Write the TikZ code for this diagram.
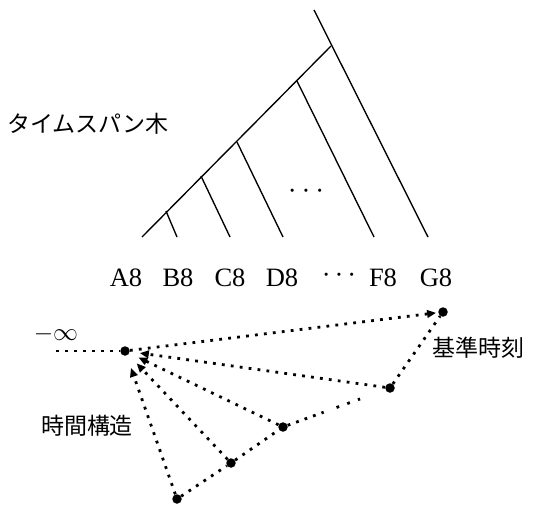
\documentclass[tikz,border=0pt]{standalone}
\usepackage{fontspec}
\setmainfont{Liberation Serif}
\newfontfamily\jpfont{Noto Sans CJK JP}
\usetikzlibrary{arrows.meta,calc}
\begin{document}
\begin{tikzpicture}[x=1pt,y=-1pt,
  treeline/.style={line width=1.35pt},
  dotline/.style={line width=2.8pt, dash pattern=on 2.8pt off 6.2pt},
  sparse/.style={line width=2.8pt, dash pattern=on 2.8pt off 8.6pt},
  arr/.style={-{Triangle[length=9pt,width=7.5pt]}},
  dotnode/.style={circle, fill, inner sep=0pt, minimum size=9.5pt},
  lab/.style={font=\fontsize{26.5}{30}\selectfont, inner sep=0pt, anchor=base},
  jp/.style={font=\jpfont\fontsize{23}{26}\selectfont, inner sep=0pt},
  ell/.style={font=\fontsize{26.5}{30}\selectfont, inner sep=0pt, anchor=base}
]
\useasboundingbox (0,0) rectangle (533,504);

% ---- time-span tree ----
\coordinate (t0) at (142,237);
\coordinate (t1) at (331,46);
\coordinate (top) at (314,10);
\coordinate (gEnd) at (428,237);
\coordinate (j1) at (297,81);
\coordinate (f1) at (374,237);
\coordinate (j2) at (237,142);
\coordinate (d1) at (283,237);
\coordinate (j3) at (201,176);
\coordinate (c1) at (230,237);
\coordinate (j4) at (166,211);
\coordinate (b1) at (177,237);
\draw[treeline] (t0) -- (t1);
\draw[treeline] (top) -- (gEnd);
\draw[treeline] (j1) -- (f1);
\draw[treeline] (j2) -- (d1);
\draw[treeline] (j3) -- (c1);
\draw[treeline] (j4) -- (b1);
\node[ell] (tdots) at (306,199) {·\hspace{5pt}·\hspace{5pt}·};

\node[jp] (tlabel) at (88,124) {タイムスパン木};

% ---- labels ----
\node[lab] (A8) at (126,286) {A8};
\node[lab] (B8) at (178,286) {B8};
\node[lab] (C8) at (230,286) {C8};
\node[lab] (D8) at (282,286) {D8};
\node[ell] (ldots) at (339,283) {·\hspace{4pt}·\hspace{4pt}·};
\node[lab] (F8) at (383,286) {F8};
\node[lab] (G8) at (436,286) {G8};

% ---- temporal structure ----
\node[dotnode] (M) at (125,351) {};
\node[dotnode] (G) at (443,312) {};
\node[dotnode] (F) at (390,388) {};
\node[dotnode] (D) at (283,427) {};
\node[dotnode] (C) at (231,463) {};
\node[dotnode] (B) at (177,499) {};
\coordinate (L) at (56,351);

\node[inner sep=0pt, font=\fontsize{29}{32}\selectfont] (minf) at (56,334) {$-\infty$};
\node[jp] (kijun) at (478,348) {基準時刻};
\node[jp] (jikan) at (87,426) {時間構造};

\draw[dotline] (L) -- (M);
\draw[dotline, arr, shorten >=2pt] (M) -- (G);
\draw[dotline] (F) -- (G);
\draw[dotline, arr, shorten >=10pt] (F) -- (M);
\draw[dotline, arr, shorten >=10pt] (D) -- (M);
\draw[dotline, arr, shorten >=12pt] (C) -- (M);
\draw[dotline, arr, shorten >=13pt] (B) -- (M);
\draw[dotline] (B) -- (C) -- (D);
\draw[dotline] (D) -- ($(D)!0.38!(F)$);
\draw[sparse] ($(D)!0.5!(F)$) -- ($(D)!0.72!(F)$);
\end{tikzpicture}
\end{document}
